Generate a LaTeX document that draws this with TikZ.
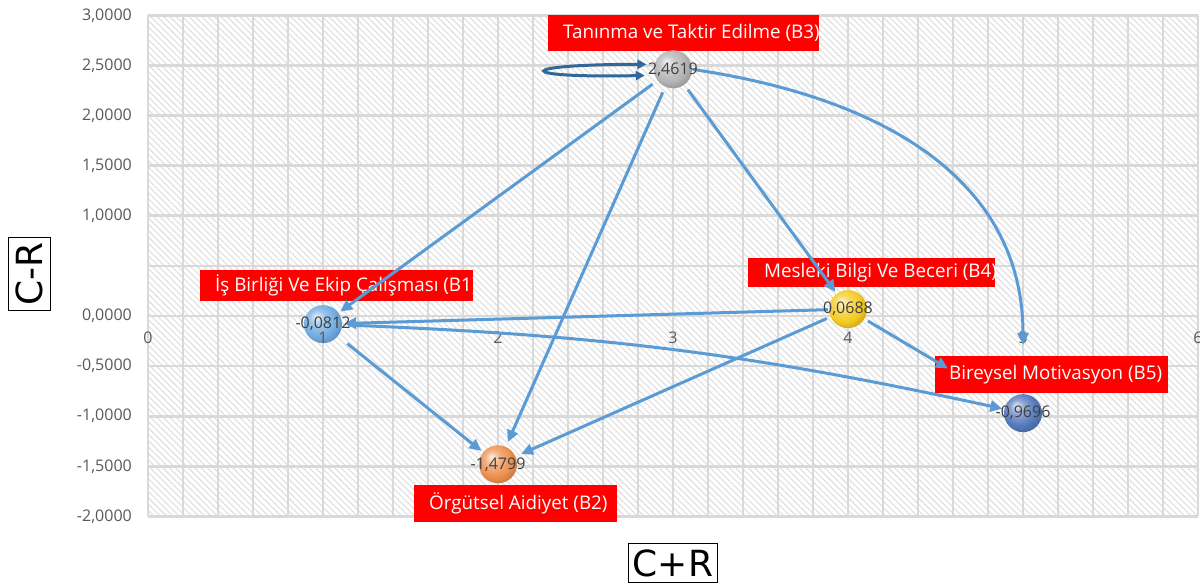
\documentclass[tikz,border=0pt]{standalone}
\usepackage{fontspec}
\setmainfont{Open Sans}
\newfontfamily\axisfont{DejaVu Sans}
\usetikzlibrary{arrows.meta,patterns.meta}

\definecolor{gridgray}{HTML}{D9D9D9}
\definecolor{hatchgray}{HTML}{E0E0E0}
\definecolor{ticktext}{HTML}{595959}
\definecolor{valtext}{HTML}{404040}
\definecolor{arrowblue}{HTML}{5B9BD5}
\definecolor{loopblue}{HTML}{31689C}
\definecolor{tagred}{HTML}{FF0000}
\definecolor{ballA}{HTML}{72ACE0}
\definecolor{ballB}{HTML}{EE9050}
\definecolor{ballC}{HTML}{B4B4B4}
\definecolor{ballD}{HTML}{F5CA22}
\definecolor{ballE}{HTML}{5579BE}
\colorlet{ballcol}{ballA}

% glossy sphere: light highlight to the upper left, base colour towards the rim
\pgfdeclareradialshading[ballcol]{gloss}{\pgfpoint{-9bp}{10bp}}{%
  color(0bp)=(ballcol!15!white);
  color(10bp)=(ballcol!70!white);
  color(22bp)=(ballcol);
  color(32bp)=(ballcol!80!black);
  color(50bp)=(ballcol!65!black)}

\tikzset{
  ticklabel/.style={text=ticktext, inner sep=0pt, font=\fontsize{16}{18}\selectfont},
  sphere/.style={circle, minimum size=38pt, inner sep=0pt, shading=gloss},
  tint/.code={\colorlet{ballcol}{#1}},
  valuelabel/.style={text=valtext, inner sep=0pt, font=\fontsize{16}{18}\selectfont},
  tag/.style={rectangle, fill=tagred, inner sep=0pt},
  tagtext/.style={anchor=west, text=white, fill=none, inner sep=0pt,
                  minimum width=0pt, minimum height=0pt,
                  font=\fontsize{18.8}{22}\selectfont},
  link/.style={draw=arrowblue, line width=3pt, -{Triangle[length=12pt,width=11pt]},
               shorten <=6pt, shorten >=2pt},
  selfloop/.style={draw=loopblue, line width=3pt,
               {Triangle[length=9pt,width=9pt]}-{Triangle[length=9pt,width=9pt]}},
  axistitle/.style={draw=black, line width=1.2pt, text=black,
               font=\axisfont\fontsize{36}{36}\selectfont}
}

\begin{document}
\begin{tikzpicture}[x=1pt,y=-1pt]
\useasboundingbox (0,0) rectangle (1200,585);
\fill[white] (0,0) rectangle (1200,585);

% plot area in data coordinates: x in [0,6], y in [-2,3]
\begin{scope}[shift={(148,316)}, x=175pt, y=100.2pt]
  \fill[white] (0,-2) rectangle (6,3);
  \fill[pattern={Lines[angle=-45,distance=4.5pt,line width=1.1pt]}, pattern color=hatchgray]
    (0,-2) rectangle (6,3);
  \foreach \i in {0,...,30}
    \draw[gridgray, line width=1.4pt] ({\i*0.2},-2) -- ({\i*0.2},3);
  \foreach \k in {0,...,10}
    \draw[gridgray, line width=2.6pt] (0,{-2+\k*0.5}) -- (6,{-2+\k*0.5});

  % value axis
  \foreach \v/\t in {3/{3,0000}, 2.5/{2,5000}, 2/{2,0000}, 1.5/{1,5000}, 1/{1,0000},
                     0/{0,0000}, -0.5/{-0,5000}, -1/{-1,0000}, -1.5/{-1,5000}, -2/{-2,0000}}
    \node[ticklabel, anchor=east] at ([xshift=-16pt]0,\v) {\t};
\end{scope}

% factor tags
\node[tag, minimum width=271pt, minimum height=36pt,
  path picture={\node[tagtext] at ([xshift=15pt]path picture bounding box.west) {Tanınma ve Taktir Edilme (B3)};}]
  (lb3) at (683.5,33) {};
\node[tag, minimum width=273pt, minimum height=31pt,
  path picture={\node[tagtext] at ([xshift=15pt]path picture bounding box.west) {İş Birliği Ve Ekip Çalışması (B1)};}]
  (lb1) at (336.5,285.5) {};
\node[tag, minimum width=247pt, minimum height=29pt,
  path picture={\node[tagtext] at ([xshift=16pt]path picture bounding box.west) {Mesleki Bilgi Ve Beceri (B4)};}]
  (lb4) at (871.5,272.5) {};
\node[tag, minimum width=233pt, minimum height=37pt,
  path picture={\node[tagtext] at ([xshift=14pt]path picture bounding box.west) {Bireysel Motivasyon (B5)};}]
  (lb5) at (1051.5,374.5) {};
\node[tag, minimum width=203pt, minimum height=37pt,
  path picture={\node[tagtext] at ([xshift=15pt]path picture bounding box.west) {Örgütsel Aidiyet (B2)};}]
  (lb2) at (515.5,503.5) {};

% factors as spheres
\begin{scope}[shift={(148,316)}, x=175pt, y=100.2pt]
  \node[tint=ballA, sphere] (b1) at (1,-0.0812) {};
  \node[tint=ballB, sphere] (b2) at (2,-1.4799) {};
  \node[tint=ballC, sphere] (b3) at (3,2.4619) {};
  \node[tint=ballD, sphere] (b4) at (4,0.0688) {};
  \node[tint=ballE, sphere] (b5) at (5,-0.9696) {};
  % category axis
  \foreach \i in {0,...,6}
    \node[ticklabel] at ([yshift=-22pt]\i,0) {\i};
\end{scope}

% influence arrows
\draw[selfloop, shorten <=10pt, shorten >=8pt]
  (b3.198) .. controls +(-142,3) and +(-142,0) .. (b3.165);
\draw[link] (b3) -- (b1);
\draw[link, shorten >=5pt] (b3) -- (b2);
\draw[link] (b3) -- (b4);
\draw[link, shorten <=1pt, shorten >=49pt]
  (b3.east) .. controls +(208,31) and +(0,-204) .. (b5.north);
\draw[link, shorten <=1pt] (b4) -- (b1);
\draw[link, bend left=5] (b1) to (b5);
\draw[link, shorten <=12pt] (b1) -- (b2);
\draw[link, shorten <=4pt, shorten >=6pt] (b4) -- (b2);
\draw[link, shorten <=4pt, shorten >=68pt] (b4) -- (b5);

% values
\node[valuelabel] (v1) at (b1) {-0,0812};
\node[valuelabel] (v2) at (b2) {-1,4799};
\node[valuelabel] (v3) at (b3) {2,4619};
\node[valuelabel] (v4) at (b4) {0,0688};
\node[valuelabel] (v5) at (b5) {-0,9696};

% axis titles
\node[axistitle, rotate=90, text height=26pt, text depth=0pt, inner xsep=5pt, inner ysep=8pt]
  (ytitle) at (29.5,274) {C-R};
\node[axistitle, text height=27pt, text depth=0pt, inner xsep=4pt, inner ysep=6pt]
  (xtitle) at (673,563) {C+R};
\end{tikzpicture}
\end{document}
